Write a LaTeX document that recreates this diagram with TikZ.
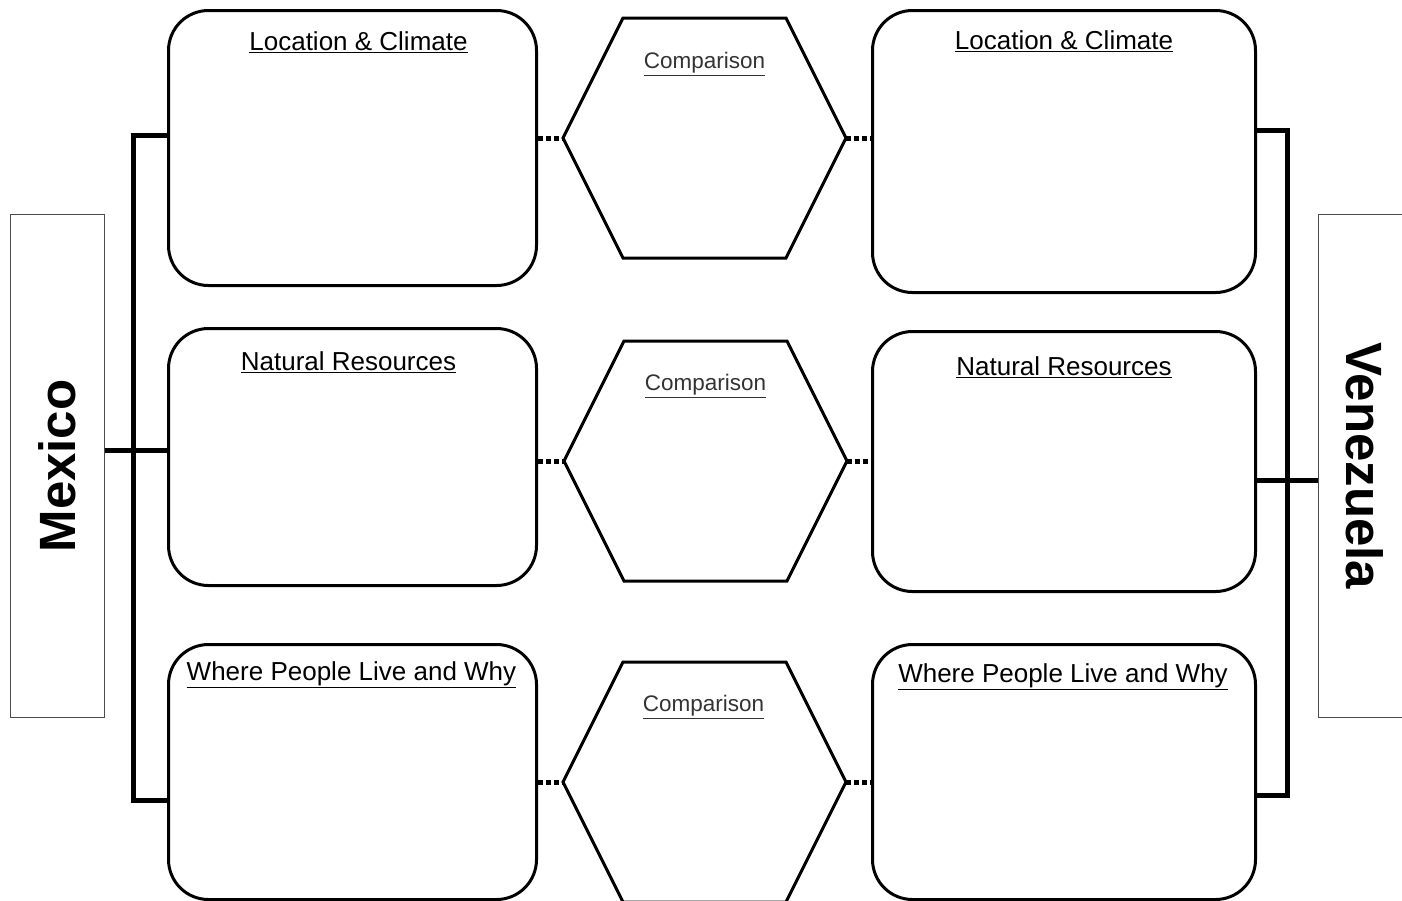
\documentclass[tikz,border=0pt]{standalone}
\usepackage{fontspec}
\setmainfont{Liberation Sans}
\usepackage{tikz}
\usetikzlibrary{calc}
\newcommand*{\lwd }{368}
\newcommand*{\rwd }{383}
\newcommand*{\cut }{60}
\newcommand*{\hexagon}[1]{\draw [hexline] (#1.west) -- ($(#1.north west)+(\cut,0)$) -- ($(#1.north east)+(-\cut,0)$) -- (#1.east) -- ($(#1.south east)+(-\cut,0)$) -- ($(#1.south west)+(\cut,0)$) -- cycle;}
\tikzset{
    country/.style  = {draw=black!70, line width=1pt, minimum width=503, minimum height=94, inner sep=0pt, font=\fontsize{51}{56}\selectfont},
    topicbox/.style = {draw, line width=3pt, rounded corners=40pt, anchor=north west, inner sep=0pt},
    topic/.style    = {inner sep=0pt, font=\fontsize{26}{30}\selectfont},
    hexbox/.style   = {minimum width=283, minimum height=240, inner sep=0pt, outer sep=0pt},
    hexline/.style  = {line width=3pt, line join=miter},
    cmp/.style      = {inner sep=0pt, text=black!80, font=\fontsize{22.5}{26}\selectfont},
    link/.style     = {line width=5pt, dash pattern=on 5pt off 3pt},
    brace/.style    = {line width=5pt}
}

\begin{document}
\begin{tikzpicture}[x=1pt, y=-1pt]
    \useasboundingbox (0,0) rectangle (1402,900);
    \clip (0,0) rectangle (1402,900);
        \node [country, rotate= 90] (mx) at (  57,466) {\textbf{Mexico}};
        \node [country, rotate=-90] (ve) at (1365,466) {\textbf{Venezuela}};
        \node [topicbox, minimum width=\lwd, minimum height=275] (l1) at (167,  9) {};
        \node [topicbox, minimum width=\lwd, minimum height=257] (l2) at (167,327) {};
        \node [topicbox, minimum width=\lwd, minimum height=255] (l3) at (167,643) {};
        \node [topicbox, minimum width=\rwd, minimum height=282] (r1) at (871,  9) {};
        \node [topicbox, minimum width=\rwd, minimum height=260] (r2) at (871,330) {};
        \node [topicbox, minimum width=\rwd, minimum height=255] (r3) at (871,643) {};
        \node [topic] (l1t) at ($(l1.north)+( 6,33)$) {\underline{Location \& Climate}};
        \node [topic] (l2t) at ($(l2.north)+(-4,35)$) {\underline{Natural Resources}};
        \node [topic] (l3t) at ($(l3.north)+(-1,32)$) {\underline{Where People Live and Why}};
        \node [topic] (r1t) at ($(r1.north)+( 0,32)$) {\underline{Location \& Climate}};
        \node [topic] (r2t) at ($(r2.north)+( 0,37)$) {\underline{Natural Resources}};
        \node [topic] (r3t) at ($(r3.north)+(-1,34)$) {\underline{Where People Live and Why}};
        \node [hexbox] (h1) at (704.5,138) {};
        \node [hexbox] (h2) at (705.5,461) {};
        \node [hexbox] (h3) at (704.5,782) {};
        \hexagon{h1}
        \hexagon{h2}
        \hexagon{h3}
        \node [cmp] (c1) at ($(h1.north)+(0,46)$) {\underline{Comparison}};
        \node [cmp] (c2) at ($(h2.north)+(0,45)$) {\underline{Comparison}};
        \node [cmp] (c3) at ($(h3.north)+(-1,45)$) {\underline{Comparison}};
        \draw [link] (h1.west -| l1.east) -- (h1.west);
        \draw [link] (h1.east) -- (h1.east -| r1.west);
        \draw [link] (h2.west -| l2.east) -- (h2.west);
        \draw [link] (h2.east) -- (h2.east -| r2.west);
        \draw [link] (h3.west -| l3.east) -- (h3.west);
        \draw [link] (h3.east) -- (h3.east -| r3.west);
        % brackets
        \coordinate (mxt) at (133,135);
        \coordinate (mxb) at (133,800);
        \coordinate (mxm) at (133,450);
        \coordinate (vet) at (1287,130);
        \coordinate (veb) at (1287,795);
        \coordinate (vem) at (1287,480);
        \draw [brace] (l1.west |- mxt) -- (mxt) -- (mxb) -- (l3.west |- mxb);
        \draw [brace] (mx.south |- mxm) -- (l2.west |- mxm);
        \draw [brace] (r1.east |- vet) -- (vet) -- (veb) -- (r3.east |- veb);
        \draw [brace] (r2.east |- vem) -- (ve.south |- vem);
    \end{tikzpicture}
\end{document}
